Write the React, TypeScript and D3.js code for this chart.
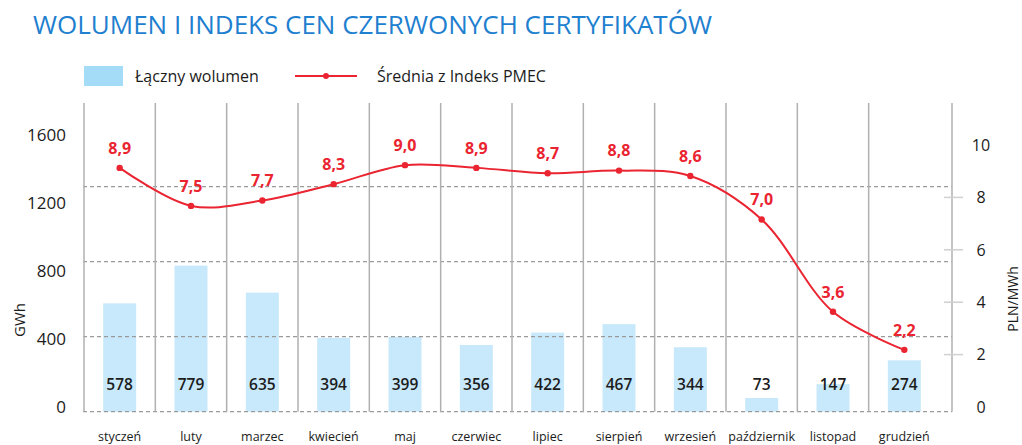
import React from "react";
import * as d3 from "d3";

const months = ["styczeń","luty","marzec","kwiecień","maj","czerwiec","lipiec","sierpień","wrzesień","październik","listopad","grudzień"];
const volume = [578, 779, 635, 394, 399, 356, 422, 467, 344, 73, 147, 274];
const price = [8.9, 7.5, 7.7, 8.3, 9.0, 8.9, 8.7, 8.8, 8.6, 7.0, 3.6, 2.2];
const leftTicks = [0, 400, 800, 1200, 1600];
const gridTicks = [0, 400, 800, 1200];
const rightTicks = [0, 2, 4, 6, 8, 10];
const rightMarks = [2, 4, 6, 8];

const FONT = "'Open Sans', 'Noto Sans', sans-serif";
const RED = "#ea2430";
const INK = "#1c1c1c";

export default function App() {
  const W = 1022, H = 445;
  const x = d3.scaleBand<string>().domain(months).range([84, 940]);
  const bw = x.bandwidth();
  const cx = (m: string) => (x(m) as number) + bw / 2;
  const yVol = d3.scaleLinear().domain([0, 1600]).range([411.7, 111.7]);
  const yLeftLbl = d3.scaleLinear().domain([0, 1600]).range([407, 135]);
  const yRightLbl = d3.scaleLinear().domain([0, 10]).range([407, 145]);
  const yPrice = d3.scaleLinear().domain([0, 10]).range([409.6, 138]);
  const plotRight = 952;
  const barW = 33;

  const line = d3
    .line<number>()
    .x((_, i) => cx(months[i]))
    .y((d) => yPrice(d))
    .curve(d3.curveCatmullRom.alpha(0.5));

  const fmt = (v: number) => v.toFixed(1).replace(".", ",");

  return (
    <svg width={W} height={H} style={{ position: "absolute", left: 0, top: 0, background: "#fff" }} fontFamily={FONT}>
      <rect x={0} y={0} width={W} height={H} fill="#fff" />
      <text x={33} y={34} fontSize={26} fill="#1f80cf">WOLUMEN I INDEKS CEN CZERWONYCH CERTYFIKATÓW</text>

      {/* legend */}
      <rect x={84} y={66} width={39} height={20} fill="#a4dcf7" />
      <text x={135} y={82} fontSize={16} fill={INK}>Łączny wolumen</text>
      <line x1={295} x2={357} y1={76} y2={76} stroke={RED} strokeWidth={2} />
      <circle cx={326} cy={76} r={3} fill={RED} />
      <text x={377} y={82} fontSize={16} fill={INK}>Średnia z Indeks PMEC</text>

      {/* bars */}
      {volume.map((v, i) => (
        <rect key={"b" + i} x={cx(months[i]) - barW / 2} y={yVol(v)} width={barW} height={yVol(0) - yVol(v)} fill="#c8e9fb" />
      ))}

      {/* grid */}
      {gridTicks.map((t) => (
        <line key={"g" + t} x1={83} x2={plotRight} y1={yVol(t)} y2={yVol(t)} stroke="#9a9a9a" strokeWidth={1.2} strokeDasharray="4 3" />
      ))}

      {/* separators */}
      {months.map((m) => (
        <line key={"s" + m} x1={x(m) as number} x2={x(m) as number} y1={103} y2={yVol(0)} stroke="#b0b0b0" strokeWidth={1.5} />
      ))}
      <line x1={plotRight} x2={plotRight} y1={103} y2={yVol(0)} stroke="#b0b0b0" strokeWidth={1.5} />

      {/* left axis */}
      {leftTicks.map((t) => (
        <text key={"l" + t} x={66} y={yLeftLbl(t)} dy="0.36em" textAnchor="end" fontSize={17} fill={INK}>{t}</text>
      ))}
      <text transform="translate(25,320) rotate(-90)" textAnchor="middle" fontSize={15} fill={INK}>GWh</text>

      {/* right axis */}
      {rightMarks.map((t) => (
        <line key={"rm" + t} x1={944} x2={963} y1={yRightLbl(t)} y2={yRightLbl(t)} stroke="#d0d0d0" strokeWidth={1.5} />
      ))}
      {rightTicks.map((t) => (
        <text key={"r" + t} x={981} y={yRightLbl(t)} dy="0.36em" textAnchor="middle" fontSize={16} fill={INK}>{t}</text>
      ))}
      <text transform="translate(1018,299) rotate(-90)" textAnchor="middle" fontSize={14} fill={INK}>PLN/MWh</text>

      {/* bar labels */}
      {volume.map((v, i) => (
        <text key={"bl" + i} x={cx(months[i])} y={384.5} dy="0.36em" textAnchor="middle" fontSize={15.5} fontWeight={600} fill={INK}>{v}</text>
      ))}

      {/* month labels */}
      {months.map((m) => (
        <text key={"m" + m} x={cx(m)} y={441} textAnchor="middle" fontSize={12.5} fill={INK}>{m}</text>
      ))}

      {/* price line */}
      <path d={line(price) || ""} fill="none" stroke={RED} strokeWidth={2} />
      {price.map((p, i) => (
        <circle key={"p" + i} cx={cx(months[i])} cy={yPrice(p)} r={3.2} fill={RED} />
      ))}
      {price.map((p, i) => (
        <text key={"pl" + i} x={cx(months[i])} y={yPrice(p) - 20} dy="0.36em" textAnchor="middle" fontSize={16} fontWeight={700} fill={RED}>{fmt(p)}</text>
      ))}
    </svg>
  );
}
